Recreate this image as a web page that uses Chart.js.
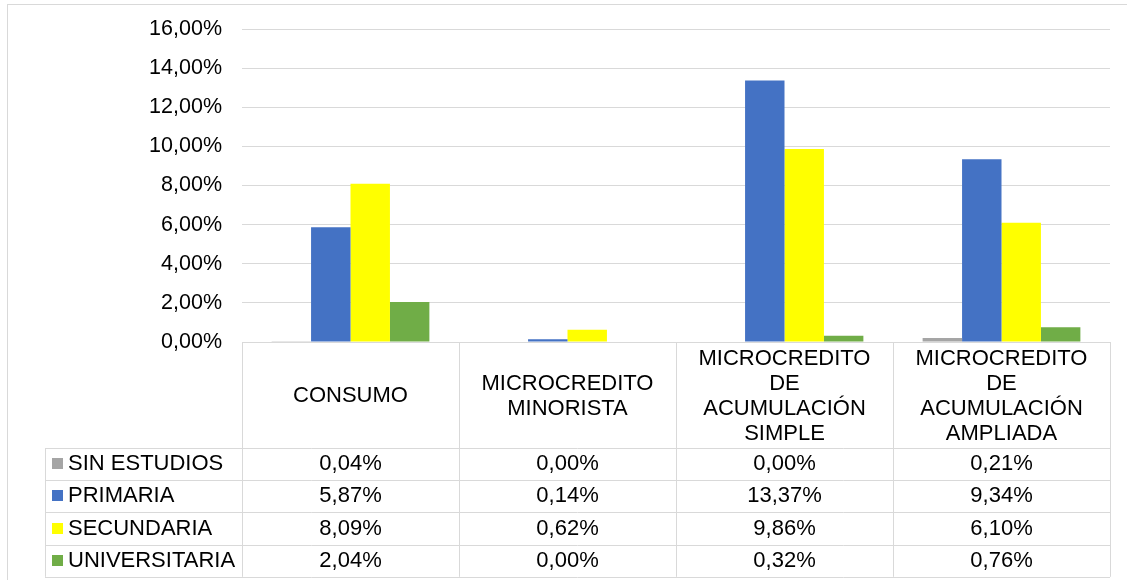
<!DOCTYPE html>
<html>
<head>
<meta charset="utf-8">
<script src="https://cdn.jsdelivr.net/npm/chart.js@4.4.1/dist/chart.umd.min.js"></script>
<style>
  html, body { margin: 0; padding: 0; background: #fff; }
  #wrap { width: 1127px; height: 580px; position: relative; }
</style>
</head>
<body>
<div id="wrap"><canvas id="chart" width="1127" height="580"></canvas></div>
<script>
// categorías (encabezado de la tabla, en varias líneas)
const categorias = [
    ['CONSUMO'],
    ['MICROCREDITO', 'MINORISTA'],
    ['MICROCREDITO', 'DE', 'ACUMULACIÓN', 'SIMPLE'],
    ['MICROCREDITO', 'DE', 'ACUMULACIÓN', 'AMPLIADA'],
];

// valores en %
const sinEstudios = [0.04, 0.00, 0.00, 0.21];
const primaria = [5.87, 0.14, 13.37, 9.34];
const secundaria = [8.09, 0.62, 9.86, 6.10];
const universitaria = [2.04, 0.00, 0.32, 0.76];

const series = [
    { nombre: 'SIN ESTUDIOS', datos: sinEstudios, color: '#A5A5A5' },
    { nombre: 'PRIMARIA', datos: primaria, color: '#4472C4' },
    { nombre: 'SECUNDARIA', datos: secundaria, color: '#FFFF00' },
    { nombre: 'UNIVERSITARIA', datos: universitaria, color: '#70AD47' },
];

const FUENTE = '"Liberation Sans", Arial, sans-serif';
const LINEA = '#d9d9d9';

function fmt(v) {
    return v.toFixed(2).replace('.', ',') + '%';
}

// marco exterior del gráfico
const marcoPlugin = {
    id: 'marco',
    beforeDraw(chart) {
        const ctx = chart.ctx;
        ctx.save();
        ctx.strokeStyle = LINEA;
        ctx.lineWidth = 1;
        ctx.strokeRect(7.5, 4.5, chart.width + 20, chart.height + 20);
        ctx.restore();
    }
};

// tabla de datos debajo del eje
const tablaPlugin = {
    id: 'tabla',
    afterDraw(chart) {
        const ctx = chart.ctx;
        const x = chart.scales.x;
        const area = chart.chartArea;
        const top = area.bottom;
        const headerH = 106;
        const rowH = 32.2;
        const legendLeft = 45;
        const colW = (area.right - area.left) / categorias.length;
        const bottom = top + headerH + rowH * series.length;

        ctx.save();
        ctx.strokeStyle = LINEA;
        ctx.lineWidth = 1;

        // líneas verticales
        for (let i = 0; i <= categorias.length; i++) {
            const px = Math.round(area.left + colW * i) + 0.5;
            ctx.beginPath();
            ctx.moveTo(px, top);
            ctx.lineTo(px, bottom);
            ctx.stroke();
        }
        ctx.beginPath();
        ctx.moveTo(legendLeft + 0.5, top + headerH);
        ctx.lineTo(legendLeft + 0.5, bottom);
        ctx.stroke();

        // líneas horizontales
        for (let r = 0; r <= series.length; r++) {
            const py = Math.round(top + headerH + rowH * r) + 0.5;
            ctx.beginPath();
            ctx.moveTo(legendLeft, py);
            ctx.lineTo(area.right, py);
            ctx.stroke();
        }

        ctx.fillStyle = '#000';
        ctx.font = '22px ' + FUENTE;
        ctx.textBaseline = 'middle';
        ctx.textAlign = 'center';

        // encabezados
        categorias.forEach((lineas, i) => {
            const cx = x.getPixelForValue(i);
            const lh = 25;
            const y0 = top + 1 + headerH / 2 - (lineas.length - 1) * lh / 2;
            lineas.forEach((t, k) => ctx.fillText(t, cx, y0 + k * lh));
        });

        // filas
        series.forEach((s, r) => {
            const cy = top + headerH + rowH * r + rowH / 2;
            ctx.fillStyle = s.color;
            ctx.fillRect(52, Math.round(cy - 6), 11, 11);
            ctx.fillStyle = '#000';
            ctx.textAlign = 'left';
            ctx.fillText(s.nombre, 68, cy);
            ctx.textAlign = 'center';
            s.datos.forEach((v, i) => {
                ctx.fillText(fmt(v), x.getPixelForValue(i), cy);
            });
        });
        ctx.restore();
    }
};

new Chart(document.getElementById('chart'), {
    type: 'bar',
    data: {
        labels: categorias,
        datasets: series.map(s => ({
            label: s.nombre,
            data: s.datos,
            backgroundColor: s.color,
            borderWidth: 0,
            categoryPercentage: 0.727,
            barPercentage: 1,
        })),
    },
    options: {
        responsive: false,
        animation: false,
        layout: { padding: { left: 0, top: 29, right: 17, bottom: 238 } },
        plugins: {
            legend: { display: false },
            tooltip: { enabled: false },
        },
        scales: {
            x: { display: false },
            y: {
                min: 0,
                max: 16,
                ticks: {
                    stepSize: 2,
                    padding: 20,
                    color: '#000',
                    font: { family: FUENTE, size: 21.5 },
                    callback: v => fmt(v),
                },
                grid: { color: LINEA, lineWidth: 1, drawTicks: false },
                border: { display: false },
                afterFit(scale) {
                    scale.width = 242;
                    scale.paddingTop = 0;
                    scale.paddingBottom = 0;
                },
            },
        },
    },
    plugins: [marcoPlugin, tablaPlugin],
});
</script>
</body>
</html>
